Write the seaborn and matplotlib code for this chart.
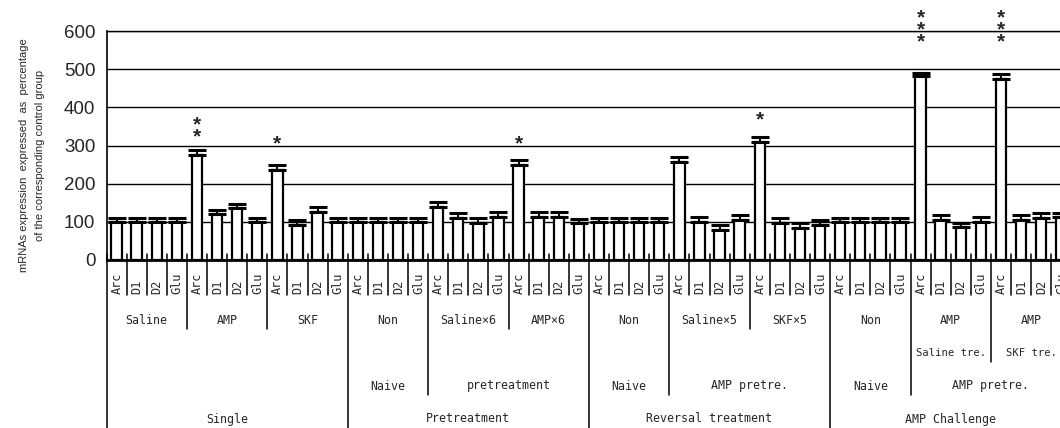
import numpy as np
import pandas as pd
import matplotlib
matplotlib.use("Agg")
import matplotlib.pyplot as plt
import matplotlib.transforms as mtransforms
import seaborn as sns

# ---- data -------------------------------------------------------------
genes = ["Arc", "D1", "D2", "Glu"]
group_labels = ["Saline", "AMP", "SKF",
                "Non", "Saline×6", "AMP×6",
                "Non", "Saline×5", "SKF×5",
                "Non", "AMP", "AMP"]
sub_labels = [(10, 10, "Saline tre."), (11, 11, "SKF tre.")]
mid_labels = [(3, 3, "Naive"), (4, 5, "pretreatment"),
              (6, 6, "Naive"), (7, 8, "AMP pretre."),
              (9, 9, "Naive"), (10, 11, "AMP pretre.")]
top_labels = [(0, 2, "Single"), (3, 5, "Pretreatment"),
              (6, 8, "Reversal treatment"), (9, 11, "AMP Challenge")]

expression = [100, 100, 100, 100,
              275, 120, 135, 100,
              236, 92, 126, 100,
              100, 100, 100, 100,
              140, 109, 98, 113,
              249, 112, 112, 96,
              100, 100, 100, 100,
              257, 100, 79, 105,
              310, 96, 85, 92,
              100, 100, 100, 100,
              482, 106, 87, 100,
              473, 105, 109, 112]
sem = [11, 11, 11, 11,
       13, 11, 13, 11,
       13, 12, 14, 11,
       11, 11, 11, 11,
       13, 13, 11, 13,
       12, 14, 14, 11,
       11, 11, 11, 11,
       13, 13, 12, 13,
       13, 13, 13, 13,
       11, 11, 11, 11,
       9, 12, 10, 12,
       14, 13, 13, 10]

# significance marks: bar index, number of asterisks, height of the lowest one
star_bars = [4, 8, 20, 32, 40, 44]
star_counts = [2, 1, 1, 1, 3, 3]
star_base = [341, 322, 322, 385, 590, 590]

# ---- figure -----------------------------------------------------------
sns.set_style("white")
plt.rcParams["font.family"] = ["Liberation Sans", "DejaVu Sans"]

W, H = 1060, 428
fig = plt.figure(figsize=(W / 100, H / 100), dpi=100)
n_bars = len(expression)
slot_px = 20.1
x0_px, base_px, top_px = 106.5, 260, 31
ax = fig.add_axes([x0_px / W, (H - base_px) / H,
                   n_bars * slot_px / W, (base_px - top_px) / H])

keys = [f"{g}|{i}|{gene}" for i, g in enumerate(group_labels) for gene in genes]
df = pd.DataFrame({"bar": keys, "value": expression})
sns.barplot(data=df, x="bar", y="value", order=keys, color="white",
            edgecolor="black", linewidth=1.6, width=0.52, saturation=1,
            errorbar=None, ax=ax, zorder=3)

xs = np.arange(n_bars)
ax.errorbar(xs, expression, yerr=[np.zeros(n_bars), sem], fmt="none",
            ecolor="black", elinewidth=1.4, capsize=6.5, capthick=2.2, zorder=4)

ax.set_xlim(-0.5, n_bars - 0.5)
ax.set_ylim(0, 600)
ax.set_yticks(range(0, 601, 100))
ax.tick_params(axis="y", labelsize=13.5, length=3, width=1, pad=5, color="black")
ax.set_xticks([])
ax.set_xlabel("")
ax.set_ylabel("")
ax.yaxis.grid(True, color="black", linewidth=1.0)
ax.set_axisbelow(True)
for side in ["left", "bottom", "top"]:
    ax.spines[side].set_color("black")
ax.spines["left"].set_linewidth(1.2)
ax.spines["bottom"].set_linewidth(2.0)
ax.spines["top"].set_linewidth(1.0)
ax.spines["right"].set_visible(False)

# asterisks above the Arc bars
star_fs = 15
for b, cnt, base in zip(star_bars, star_counts, star_base):
    ax.annotate("\n".join(["*"] * cnt), xy=(b, base), xytext=(0, -0.60 * star_fs),
                textcoords="offset points", ha="center", va="baseline",
                fontsize=star_fs, fontweight="bold", linespacing=0.53,
                annotation_clip=False)

fig.text(32 / W, 1 - 155 / H,
         "mRNAs expression  expressed  as  percentage\nof the corresponding control group",
         rotation=90, ha="center", va="center", multialignment="center",
         fontsize=8.0, linespacing=1.85,
         family=["Liberation Sans Narrow", "Liberation Sans", "DejaVu Sans"])

# ---- category table below the axis ------------------------------------
trans = mtransforms.blended_transform_factory(ax.transData, fig.transFigure)
fy = lambda px: 1 - px / H
table_font = ["DejaVu Sans Mono", "DejaVu Sans"]

group_ends = {}
for lo, hi, _ in mid_labels:
    group_ends[hi] = max(group_ends.get(hi, 0), 395)
for lo, hi, _ in sub_labels:
    group_ends[hi] = max(group_ends.get(hi, 0), 362)
for lo, hi, _ in top_labels:
    group_ends[hi] = H + 2

for b in range(n_bars + 1):
    xb = b - 0.5
    if b == 0:
        bottom = H + 2
    elif b % 4:
        bottom = 295
    else:
        bottom = max(group_ends.get(b // 4 - 1, 329), 329)
    ax.plot([xb, xb], [fy(254), fy(bottom)], transform=trans, color="black",
            linewidth=1.1, clip_on=False, zorder=5)

for b in range(n_bars):
    ax.text(b + 0.02, fy(294), genes[b % 4], transform=trans, rotation=90,
            ha="center", va="bottom", fontsize=8.6, family=table_font)

for g, lab in enumerate(group_labels):
    ax.text(4 * g + 1.5, fy(320), lab, transform=trans, ha="center", va="center",
            fontsize=8.4, family=table_font)
for rows, ypx in [(sub_labels, 353), (mid_labels, 386), (top_labels, 419)]:
    for lo, hi, lab in rows:
        fs = 7.6 if rows is sub_labels else 8.4
        ax.text((4 * lo + 4 * hi + 3) / 2, fy(ypx), lab, transform=trans,
                ha="center", va="center", fontsize=fs, family=table_font)

fig.savefig("out.png", dpi=100)
